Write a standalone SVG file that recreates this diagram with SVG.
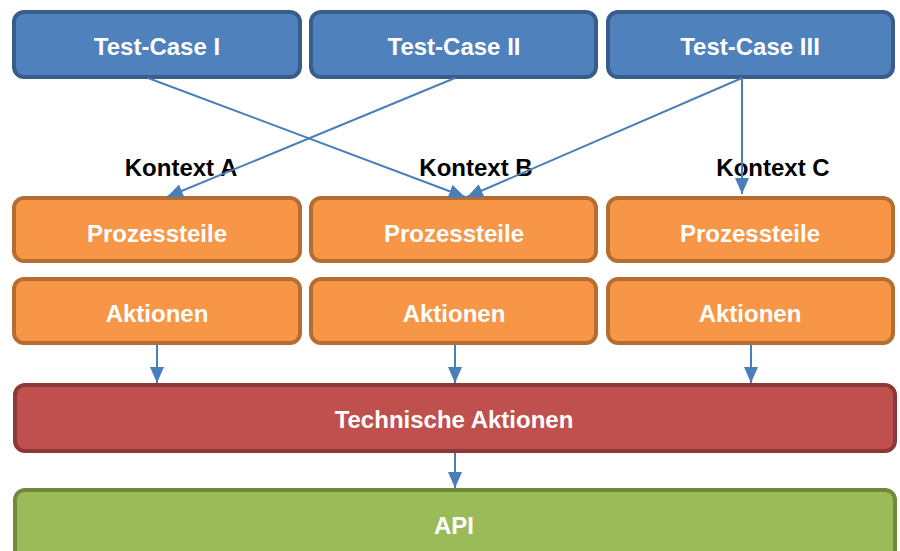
<svg xmlns="http://www.w3.org/2000/svg" width="900" height="551" viewBox="0 0 900 551">
<defs>
<marker id="ah" markerUnits="userSpaceOnUse" markerWidth="16" markerHeight="14" viewBox="0 0 16 14" refX="16" refY="7" orient="auto">
<path d="M0,0 L16,7 L0,14 Z" fill="#4A7EBB"/>
</marker>
<style>
.box{stroke-width:4}
.blue{fill:#4F81BD;stroke:#385D8A}
.orange{fill:#F79646;stroke:#B66D31}
.red{fill:#C0504D;stroke:#8C3836}
.green{fill:#9BBB59;stroke:#71893F}
.lbl{font-family:"Liberation Sans",Arial,sans-serif;font-weight:bold;font-size:24px;fill:#fff;text-anchor:middle}
.ctx{font-family:"Liberation Sans",Arial,sans-serif;font-weight:bold;font-size:24px;fill:#000;text-anchor:middle}
.con{stroke:#4A7EBB;stroke-width:2;fill:none;marker-end:url(#ah)}
</style>
</defs>
<rect width="900" height="551" fill="#fff"/>
<g id="tc1"><rect class="box blue" x="14" y="12" width="286" height="65" rx="10"/><text class="lbl" x="157" y="55">Test-Case I</text></g>
<g id="tc2"><rect class="box blue" x="311" y="12" width="285" height="65" rx="10"/><text class="lbl" x="454" y="55">Test-Case II</text></g>
<g id="tc3"><rect class="box blue" x="608" y="12" width="285" height="65" rx="10"/><text class="lbl" x="750" y="55">Test-Case III</text></g>
<g id="ctxA"><text class="ctx" x="181" y="176">Kontext A</text></g>
<g id="ctxB"><text class="ctx" x="476" y="176">Kontext B</text></g>
<g id="ctxC"><text class="ctx" x="773" y="176">Kontext C</text></g>
<g id="p1"><rect class="box orange" x="14" y="198" width="286" height="63" rx="10"/><text class="lbl" x="157" y="242">Prozessteile</text></g>
<g id="p2"><rect class="box orange" x="311" y="198" width="285" height="63" rx="10"/><text class="lbl" x="454" y="242">Prozessteile</text></g>
<g id="p3"><rect class="box orange" x="608" y="198" width="285" height="63" rx="10"/><text class="lbl" x="750" y="242">Prozessteile</text></g>
<g id="a1"><rect class="box orange" x="14" y="279" width="286" height="64" rx="10"/><text class="lbl" x="157" y="322">Aktionen</text></g>
<g id="a2"><rect class="box orange" x="311" y="279" width="285" height="64" rx="10"/><text class="lbl" x="454" y="322">Aktionen</text></g>
<g id="a3"><rect class="box orange" x="608" y="279" width="285" height="64" rx="10"/><text class="lbl" x="750" y="322">Aktionen</text></g>
<g id="tech"><rect class="box red" x="15" y="385" width="880" height="66" rx="10"/><text class="lbl" x="454" y="428">Technische Aktionen</text></g>
<g id="api"><rect class="box green" x="15" y="490" width="880" height="72" rx="10"/><text class="lbl" x="454" y="534">API</text></g>
<g id="connectors">
<line class="con" x1="148" y1="78" x2="465" y2="197"/>
<line class="con" x1="455" y1="78" x2="167" y2="197"/>
<line class="con" x1="742" y1="78" x2="467" y2="197"/>
<line class="con" x1="742" y1="78" x2="742" y2="194"/>
<line class="con" x1="157" y1="345" x2="157" y2="383"/>
<line class="con" x1="455" y1="345" x2="455" y2="383"/>
<line class="con" x1="751" y1="345" x2="751" y2="383"/>
<line class="con" x1="455" y1="453" x2="455" y2="488"/>
</g>
</svg>
